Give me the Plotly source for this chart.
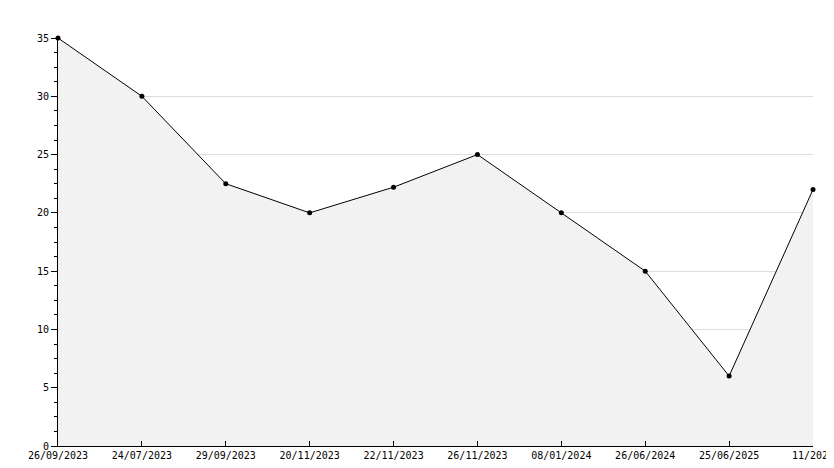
import plotly.graph_objects as go

# === Dati ===
dates = ["26/09/2023", "24/07/2023", "29/09/2023", "20/11/2023", "22/11/2023",
         "26/11/2023", "08/01/2024", "26/06/2024", "25/06/2025", "11/2025"]
values = [35, 30, 22.5, 20, 22.2, 25, 20, 15, 6, 22]
y_ticks = [0, 5, 10, 15, 20, 25, 30, 35]

fig = go.Figure()
fig.add_trace(go.Scatter(
    x=list(range(len(dates))), y=values, mode="lines+markers",
    line=dict(color="black", width=1),
    marker=dict(color="black", size=5, symbol="circle"),
    fill="tozeroy", fillcolor="#f2f2f2", cliponaxis=False,
))

fig.update_layout(
    width=834, height=468,
    plot_bgcolor="white", paper_bgcolor="white",
    margin=dict(l=50, r=29, t=30, b=30, autoexpand=False),
    showlegend=False,
    font=dict(family="DejaVu Sans Mono, monospace", size=10, color="black"),
)
fig.update_xaxes(
    range=[0, len(dates) - 1], tickvals=list(range(len(dates))), ticktext=dates,
    ticks="inside", ticklen=5, tickcolor="black", showgrid=False, automargin=False,
    showline=True, linecolor="black", linewidth=1, zeroline=False,
)
fig.update_yaxes(
    range=[0, 35], tickvals=y_ticks, ticks="outside", ticklen=6, tickcolor="black",
    showgrid=True, gridcolor="#dddddd", showline=True, linecolor="black", zeroline=False,
    automargin=False,
    minor=dict(dtick=1.25, ticks="outside", ticklen=3, tickcolor="black", showgrid=False),
)

fig.write_html("out.html")
